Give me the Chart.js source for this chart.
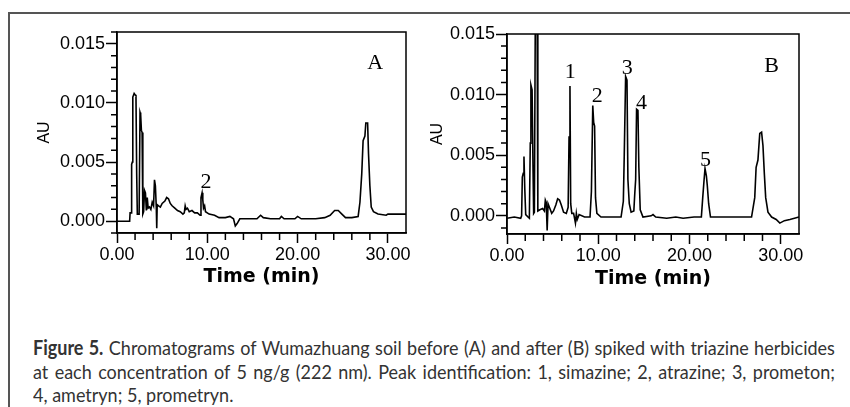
<!DOCTYPE html>
<html>
<head>
<meta charset="utf-8">
<script src="https://cdn.jsdelivr.net/npm/chart.js@4.4.0/dist/chart.umd.min.js"></script>
<style>
  body { margin: 0; background: #fff; width: 850px; height: 407px; overflow: hidden; position: relative; }
  #frame { position: absolute; left: 8px; top: 12px; right: 0; bottom: 0; border-top: 2px solid #555; border-left: 2px solid #555; }
  canvas { position: absolute; top: 0; }
  #cap { position: absolute; left: 33px; top: 336px; width: 891px; transform: scaleX(0.9); transform-origin: 0 0;
         font-family: Lato, "Liberation Sans", sans-serif; font-size: 20px; line-height: 23.5px; color: #333; }
  #cap .j { text-align: justify; text-align-last: justify; }
  #cap div { white-space: nowrap; }
  #cap b { font-weight: 700; }
</style>
</head>
<body>
<div id="frame"></div>
<canvas id="chartA" width="425" height="300" style="left:0"></canvas>
<canvas id="chartB" width="425" height="300" style="left:425px"></canvas>
<div id="cap">
  <div class="j"><b>Figure 5.</b> Chromatograms of Wumazhuang soil before (A) and after (B) spiked with triazine herbicides</div>
  <div class="j">at each concentration of 5 ng/g (222 nm). Peak identification: 1, simazine; 2, atrazine; 3, prometon;</div>
  <div>4, ametryn; 5, prometryn.</div>
</div>
<script>
// retention time (min) and absorbance (AU)
var timeA = [0.0, 1.4, 1.45, 1.58, 1.62, 1.7, 1.75, 1.9, 2.0, 2.1, 2.18, 2.25, 2.45, 2.55, 2.62, 2.7, 2.78, 2.86,
  2.95, 3.05, 3.15, 3.25, 3.35, 3.45, 3.6, 3.75, 3.9, 4.05, 4.15, 4.25, 4.35, 4.4, 4.45, 4.6, 4.8, 5.0, 5.3, 5.5,
  5.7, 5.9, 6.1, 6.4, 6.7, 7.0, 7.3, 7.45, 7.55, 7.65, 7.8, 8.0, 8.3, 8.6, 8.9, 9.2, 9.3, 9.42, 9.5, 9.58, 9.7,
  9.8, 10.2, 10.8, 11.3, 12.0, 12.5, 12.9, 13.1, 13.3, 13.6, 14.5, 15.5, 15.9, 16.2, 17.0, 18.0, 18.2, 18.5,
  19.7, 20.0, 20.4, 22.0, 23.0, 23.6, 24.1, 24.5, 24.9, 25.3, 26.0, 26.7, 26.9, 27.1, 27.25, 27.45, 27.55,
  27.75, 27.85, 28.0, 28.15, 28.4, 28.9, 29.8, 30.0, 32.0];
var auA = [0.0000, 0.0000, 0.0007, 0.0007, 0.0048, 0.0050, 0.0105, 0.0108, 0.0107, 0.0106, 0.0040, 0.0006,
  0.0006, 0.0092, 0.0090, 0.0077, 0.0075, 0.0006, 0.0008, 0.0026, 0.0024, 0.0009, 0.0020, 0.0011, 0.0012,
  0.0010, 0.0016, 0.0013, 0.0035, 0.0030, 0.0012, -0.0006, 0.0014, 0.0013, 0.0012, 0.0015, 0.0017, 0.0020,
  0.0019, 0.0015, 0.0013, 0.0011, 0.0009, 0.0008, 0.0006, 0.0007, 0.0013, 0.0010, 0.0011, 0.0008, 0.0009,
  0.0007, 0.0007, 0.0005, 0.0020, 0.0024, 0.0018, 0.0011, 0.0013, 0.0008, 0.0006, 0.0005, 0.0003, 0.0003,
  0.0004, 0.0002, -0.0004, -0.0002, 0.0002, 0.0002, 0.0002, 0.0005, 0.0003, 0.0002, 0.0002, 0.0004, 0.0002,
  0.0002, 0.0004, 0.0002, 0.0002, 0.0003, 0.0005, 0.0009, 0.0009, 0.0006, 0.0003, 0.0003, 0.0004, 0.0016,
  0.0040, 0.0068, 0.0072, 0.0083, 0.0083, 0.0057, 0.0030, 0.0012, 0.0008, 0.0006, 0.0005, 0.0006, 0.0006];

var timeB = [0.0, 0.8, 1.5, 1.6, 1.68, 1.78, 1.86, 1.95, 2.05, 2.3, 2.45, 2.55, 2.62, 2.75, 2.85, 2.92, 3.0,
  3.1, 3.3, 3.38, 3.6, 3.9, 4.1, 4.2, 4.3, 4.4, 4.5, 4.7, 4.9, 5.1, 5.35, 5.55, 5.75, 5.95, 6.2, 6.5, 6.7, 6.8,
  6.9, 6.98, 7.1, 7.3, 7.5, 7.6, 7.7, 7.9, 8.5, 9.1, 9.25, 9.4, 9.5, 9.6, 9.7, 9.85, 10.3, 12.5, 12.75, 12.85,
  13.0, 13.15, 13.25, 13.4, 13.6, 13.9, 14.0, 14.1, 14.2, 14.35, 14.45, 14.6, 14.9, 15.8, 16.0, 16.3, 17.5,
  18.5, 19.3, 20.5, 21.3, 21.45, 21.6, 21.7, 21.85, 21.95, 22.1, 22.3, 24.0, 26.8, 27.15, 27.3, 27.5, 27.7,
  27.9, 28.05, 28.2, 28.35, 28.6, 29.0, 29.5, 29.9, 30.4, 31.0, 31.5, 32.0];
var auB = [-0.0002, -0.0001, -0.0002, 0.0000, 0.0032, 0.0035, 0.0049, 0.0022, 0.0001, -0.0001, -0.0002,
  0.0060, 0.0108, 0.0104, 0.0040, 0.0002, 0.0003, 0.0160, 0.0160, 0.0004, 0.0005, 0.0006, 0.0004, 0.0013,
  0.0011, -0.0012, 0.0010, 0.0006, 0.0002, 0.0004, 0.0009, 0.0014, 0.0013, 0.0009, 0.0003, 0.0002, 0.0007,
  0.0065, 0.0107, 0.0010, 0.0002, 0.0002, -0.0006, 0.0002, -0.0003, 0.0001, -0.0001, -0.0001, 0.0020, 0.0091,
  0.0077, 0.0074, 0.0015, 0.0002, -0.0001, -0.0001, 0.0012, 0.0050, 0.0115, 0.0112, 0.0030, 0.0010, 0.0003,
  0.0004, 0.0018, 0.0030, 0.0088, 0.0087, 0.0040, 0.0005, -0.0001, 0.0000, 0.0001, -0.0001, -0.0002, -0.0001,
  -0.0002, -0.0001, -0.0001, 0.0015, 0.0030, 0.0039, 0.0033, 0.0025, 0.0010, -0.0001, -0.0001, -0.0001,
  0.0015, 0.0040, 0.0046, 0.0068, 0.0069, 0.0058, 0.0035, 0.0015, 0.0003, -0.0001, -0.0003, -0.0006, -0.0004,
  -0.0003, -0.0002, -0.0001];

var xTicks = [0, 10, 20, 30];
var yTicks = [0, 0.005, 0.010, 0.015];

// labels on the traces: text, time, AU (baseline of the text)
var labelsA = ['2', 'A'];
var labelTimeA = [9.86, 28.6];
var labelAuA = [0.0028, 0.0129];
var labelsB = ['1', '2', '3', '4', '5', 'B'];
var labelTimeB = [6.92, 9.89, 13.19, 14.73, 21.76, 29.0];
var labelAuB = [0.0114, 0.0094, 0.0117, 0.0088, 0.0041, 0.0119];

function pairs(t, v) {
  var out = [];
  for (var i = 0; i < t.length; i++) out.push({x: t[i], y: v[i]});
  return out;
}

var extras = {
  id: 'extras',
  afterDraw: function (chart, args, opts) {
    var ctx = chart.ctx, a = chart.chartArea;
    var xs = chart.scales.x, ys = chart.scales.y;
    ctx.save();
    ctx.strokeStyle = '#000';
    ctx.lineWidth = 1.5;
    ctx.strokeRect(a.left, a.top, a.right - a.left, a.bottom - a.top);
    // minor ticks
    ctx.beginPath();
    for (var m = 2; m < 32; m += 2) {
      if (m % 10 === 0) continue;
      var px = xs.getPixelForValue(m);
      ctx.moveTo(px, a.bottom); ctx.lineTo(px, a.bottom + 7);
    }
    for (var k = -1; k <= 16; k++) {
      if (k % 5 === 0) continue;
      var py = ys.getPixelForValue(k / 1000);
      if (py < a.top - 0.5 || py > a.bottom + 0.5) continue;
      ctx.moveTo(a.left, py); ctx.lineTo(a.left - 6, py);
    }
    ctx.stroke();
    ctx.fillStyle = '#000';
    ctx.font = '22px "Liberation Serif", "Times New Roman", serif';
    ctx.textAlign = 'center';
    ctx.textBaseline = 'alphabetic';
    for (var i = 0; i < opts.text.length; i++) {
      ctx.fillText(opts.text[i], xs.getPixelForValue(opts.t[i]), ys.getPixelForValue(opts.v[i]));
    }
    ctx.restore();
  }
};

function makeChart(id, t, v, yMin, yMax, pad, yWidth, xHeight, auPad, timePad, lab, labT, labV) {
  return new Chart(document.getElementById(id), {
    type: 'line',
    data: {
      datasets: [{
        data: pairs(t, v),
        borderColor: '#000',
        borderWidth: 1.6,
        pointRadius: 0,
        tension: 0,
        clip: 0
      }]
    },
    options: {
      responsive: false,
      animation: false,
      layout: {padding: pad},
      plugins: {
        legend: {display: false},
        tooltip: {enabled: false},
        extras: {text: lab, t: labT, v: labV}
      },
      scales: {
        x: {
          type: 'linear',
          min: 0, max: 32,
          afterBuildTicks: function (s) { s.ticks = xTicks.map(function (x) { return {value: x}; }); },
          afterFit: function (s) { s.height = xHeight; },
          ticks: {
            color: '#000', padding: 1, maxRotation: 0,
            font: {family: '"Liberation Sans", Arial, sans-serif', size: 18},
            callback: function (val) { return val.toFixed(2); }
          },
          grid: {drawOnChartArea: false, tickLength: 10, tickWidth: 1.5, tickColor: '#000'},
          border: {color: '#000', width: 1.5},
          title: {
            display: true, text: 'Time (min)', color: '#000',
            font: {family: '"DejaVu Sans", Verdana, sans-serif', size: 19, weight: 'bold'},
            padding: {top: 0, bottom: timePad}
          }
        },
        y: {
          type: 'linear',
          min: yMin, max: yMax,
          afterBuildTicks: function (s) { s.ticks = yTicks.map(function (y) { return {value: y}; }); },
          afterFit: function (s) { s.width = yWidth; },
          ticks: {
            color: '#000', padding: 1,
            font: {family: '"Liberation Sans", Arial, sans-serif', size: 18},
            callback: function (val) { return val.toFixed(3); }
          },
          grid: {drawOnChartArea: false, tickLength: 11, tickWidth: 1.5, tickColor: '#000'},
          border: {color: '#000', width: 1.5},
          title: {
            display: true, text: 'AU', color: '#000',
            font: {family: '"Liberation Sans", Arial, sans-serif', size: 16},
            padding: {top: auPad, bottom: 0}
          }
        }
      }
    },
    plugins: [extras]
  });
}

makeChart('chartA', timeA, auA, -0.001, 0.016, {top: 32, right: 19, left: 0, bottom: 0}, 117, 67, 35.4, 11.6,
  labelsA, labelTimeA, labelAuA);
makeChart('chartB', timeB, auB, -0.0015, 0.015, {top: 34, right: 51, left: 0, bottom: 0}, 82, 66, 3.4, 10,
  labelsB, labelTimeB, labelAuB);
</script>
</body>
</html>
